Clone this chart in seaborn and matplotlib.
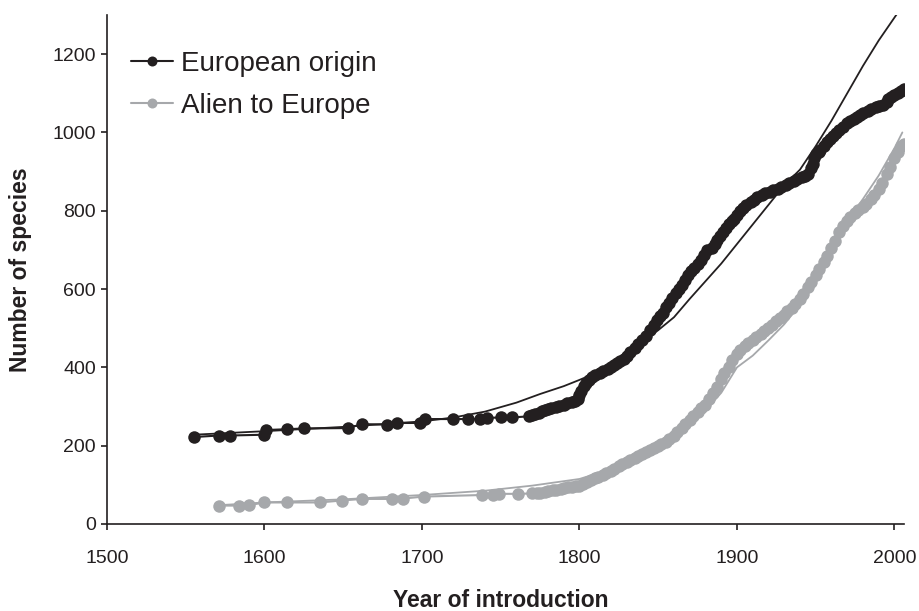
import pandas as pd
import matplotlib
matplotlib.use("Agg")
import matplotlib.pyplot as plt
import seaborn as sns

# Observed cumulative number of species (dots)
eu_years = [1555, 1571, 1578, 1600, 1601, 1614, 1625, 1653, 1662, 1678, 1684, 1699, 1702,
            1720, 1729, 1737, 1741, 1750, 1757,
            1768, 1770, 1772, 1774, 1776, 1778, 1780, 1782, 1785, 1787, 1790, 1792, 1795,
            1797, 1799, 1800, 1801, 1803, 1804, 1806, 1808, 1810, 1813, 1815, 1818, 1820,
            1822, 1824, 1826, 1828, 1830, 1832, 1835, 1837, 1840, 1842, 1845, 1847, 1849,
            1851, 1853, 1855, 1857, 1859, 1861, 1863, 1865, 1867, 1869, 1871, 1873, 1875,
            1877, 1879, 1881, 1884, 1886, 1887, 1889, 1891, 1893, 1895, 1897, 1898, 1900,
            1902, 1904, 1906, 1909, 1911, 1913, 1916, 1918, 1921, 1923, 1926, 1928, 1931,
            1933, 1936, 1938, 1941, 1943, 1945, 1947, 1948, 1949, 1950, 1952, 1953, 1955,
            1957, 1959, 1961, 1963, 1965, 1967, 1970, 1972, 1974, 1976, 1978, 1980, 1983,
            1985, 1988, 1990, 1993, 1995, 1996, 1998, 2000, 2002, 2004, 2006]
eu_counts = [222, 226, 226, 228, 240, 242, 244, 245, 255, 254, 258, 258, 268,
             268, 268, 268, 271, 272, 272,
             275, 278, 280, 284, 288, 291, 293, 296, 298, 302, 305, 308, 312,
             315, 320, 330, 340, 352, 360, 368, 375, 380, 385, 390, 395, 400,
             405, 410, 417, 422, 428, 438, 450, 460, 470, 480, 495, 508, 520,
             530, 540, 553, 565, 578, 590, 600, 610, 622, 635, 645, 655, 665,
             675, 688, 700, 705, 715, 725, 735, 745, 755, 765, 773, 780, 790,
             800, 808, 815, 822, 828, 835, 840, 845, 848, 852, 855, 860, 865,
             870, 875, 880, 885, 890, 895, 908, 920, 935, 945, 950, 955, 965,
             975, 982, 990, 998, 1005, 1015, 1025, 1030, 1035, 1040, 1045, 1050, 1055,
             1060, 1065, 1067, 1070, 1078, 1085, 1090, 1095, 1100, 1105, 1112]

al_years = [1571, 1584, 1590, 1600, 1614, 1635, 1649, 1662, 1681, 1688, 1701, 1738, 1745,
            1749, 1761,
            1770, 1773, 1775, 1778, 1780, 1783, 1785, 1788, 1790, 1793, 1795, 1798, 1800,
            1802, 1805, 1807, 1810, 1812, 1815, 1817, 1820, 1822, 1825, 1827, 1830, 1832,
            1835, 1837, 1840, 1842, 1845, 1847, 1850, 1852, 1855, 1857, 1860, 1862, 1865,
            1867, 1870, 1872, 1875, 1877, 1880, 1882, 1885, 1887, 1890, 1892, 1895, 1897,
            1900, 1902, 1905, 1907, 1910, 1912, 1915, 1917, 1920, 1922, 1925, 1927, 1930,
            1932, 1935, 1937, 1940, 1942, 1945, 1947, 1950, 1952, 1955, 1957, 1960, 1962,
            1965, 1967, 1970, 1972, 1975, 1977, 1980, 1982, 1985, 1987, 1990, 1992, 1995,
            1997, 2000, 2002, 2004, 2006]
al_counts = [47, 47, 48, 55, 55, 55, 60, 64, 64, 65, 70, 74, 74,
             77, 77,
             78, 79, 80, 82, 84, 86, 88, 90, 92, 94, 95, 96, 98,
             103, 108, 113, 118, 121, 125, 130, 135, 141, 148, 152, 158, 163,
             168, 173, 178, 183, 188, 193, 198, 204, 210, 217, 225, 235, 245,
             255, 265, 275, 285, 295, 305, 318, 335, 350, 370, 385, 400, 418,
             435, 445, 455, 462, 470, 478, 485, 492, 500, 508, 518, 525, 535,
             543, 552, 562, 575, 588, 605, 618, 635, 650, 670, 685, 705, 722,
             745, 760, 775, 785, 795, 802, 810, 818, 830, 840, 855, 872, 895,
             912, 935, 950, 965, 970]

# Fitted curves (thin lines)
eu_fit_years = [1555, 1600, 1650, 1700, 1720, 1740, 1760, 1775, 1790, 1800, 1810, 1820, 1830,
                1840, 1850, 1860, 1870, 1880, 1890, 1900, 1910, 1920, 1930, 1940, 1950, 1960,
                1970, 1980, 1990, 2003]
eu_fit_counts = [228, 237, 248, 262, 272, 287, 310, 332, 352, 368, 385, 410, 435,
                 465, 495, 528, 575, 620, 665, 715, 765, 815, 865, 905, 965, 1030,
                 1100, 1170, 1235, 1311]

al_fit_years = [1571, 1600, 1650, 1700, 1740, 1770, 1800, 1820, 1840, 1860, 1870, 1880, 1890,
                1900, 1910, 1920, 1930, 1940, 1950, 1960, 1970, 1980, 1990, 2000, 2005]
al_fit_counts = [48, 55, 63, 74, 85, 98, 115, 140, 180, 225, 255, 290, 335,
                 400, 430, 469, 510, 560, 625, 700, 775, 830, 890, 960, 1000]

eu = pd.DataFrame({"year": eu_years, "n": eu_counts})
al = pd.DataFrame({"year": al_years, "n": al_counts})
eu_fit = pd.DataFrame({"year": eu_fit_years, "n": eu_fit_counts})
al_fit = pd.DataFrame({"year": al_fit_years, "n": al_fit_counts})

BLACK = "#231f20"
GREY = "#a6a8ab"

sns.set_theme(style="white")
plt.rcParams["font.family"] = ["Liberation Sans", "DejaVu Sans"]

fig = plt.figure(figsize=(9.19, 6.11), dpi=100)
ax = fig.add_axes([0.1164, 0.1424, 0.8672, 0.8331])

sns.lineplot(data=eu, x="year", y="n", color=BLACK, marker="o", markersize=9,
             markeredgewidth=0, linewidth=1.5, label="European origin", ax=ax)
sns.lineplot(data=al, x="year", y="n", color=GREY, marker="o", markersize=9,
             markeredgewidth=0, linewidth=1.5, label="Alien to Europe", ax=ax)
sns.lineplot(data=eu_fit, x="year", y="n", color=BLACK, linewidth=1.3, legend=False, ax=ax)
sns.lineplot(data=al_fit, x="year", y="n", color=GREY, linewidth=1.3, legend=False, ax=ax)

ax.set_xlim(1500, 2006)
ax.set_ylim(0, 1300)
ax.set_xticks([1500, 1600, 1700, 1800, 1900, 2000])
ax.set_yticks([0, 200, 400, 600, 800, 1000, 1200])
sns.despine(ax=ax)
for s in ["left", "bottom"]:
    ax.spines[s].set_color(BLACK)
    ax.spines[s].set_linewidth(1.2)
ax.tick_params(axis="both", direction="out", length=4, width=1.2, color=BLACK,
               labelsize=14, labelcolor=BLACK, left=True, bottom=True)
ax.tick_params(axis="x", pad=15)
ax.tick_params(axis="y", pad=4)

ax.set_xlabel("Year of introduction", fontsize=16.5, fontweight="bold", color=BLACK)
ax.set_ylabel("Number of species", fontsize=16.5, fontweight="bold", color=BLACK)
ax.xaxis.set_label_coords(0.494, -0.127)
ax.yaxis.set_label_coords(-0.094, 0.5)

leg = ax.legend(loc="upper left", bbox_to_anchor=(0.03, 0.930), frameon=False,
                fontsize=20, handlelength=1.5, handletextpad=0.32, labelspacing=0.59,
                borderpad=0, borderaxespad=0, markerscale=0.8)
for t in leg.get_texts():
    t.set_color(BLACK)

fig.savefig("out.png", dpi=100)
